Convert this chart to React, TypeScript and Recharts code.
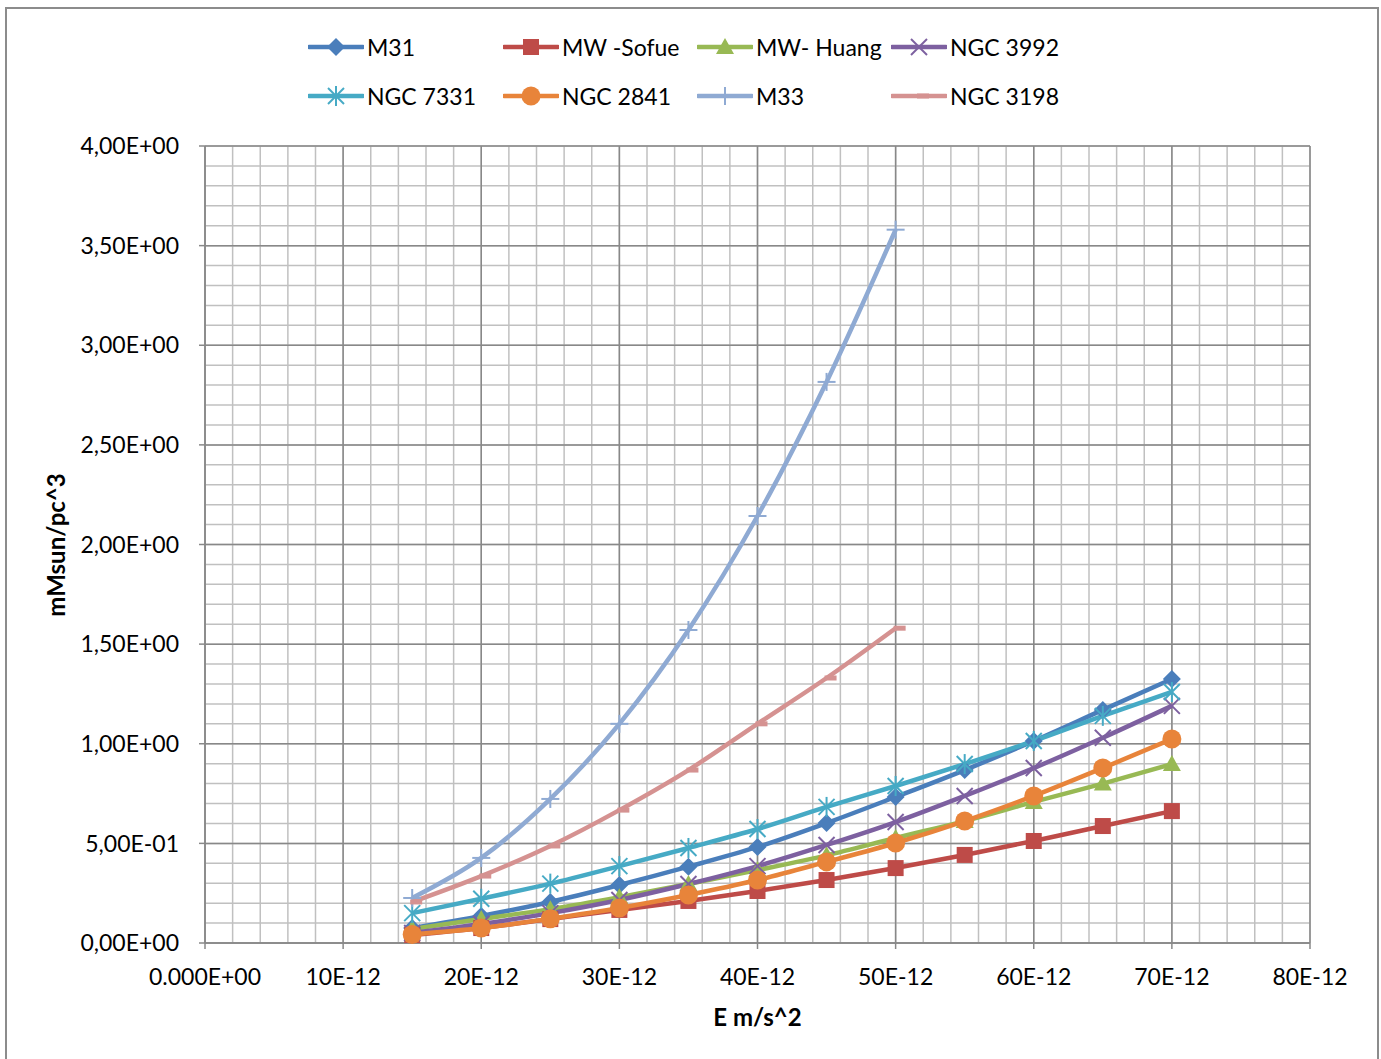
import React from 'react';
import { LineChart, Line, XAxis, YAxis, CartesianGrid, Label } from 'recharts';

// E values in units of 1E-12 m/s^2
const energies = [15, 20, 25, 30, 35, 40, 45, 50, 55, 60, 65, 70];

const m31 = [0.075, 0.136, 0.206, 0.291, 0.383, 0.482, 0.602, 0.733, 0.868, 1.014, 1.17, 1.325];
const mwSofue = [0.04, 0.075, 0.12, 0.166, 0.211, 0.261, 0.316, 0.376, 0.442, 0.512, 0.587, 0.662];
const mwHuang = [0.07, 0.12, 0.17, 0.23, 0.296, 0.366, 0.44, 0.527, 0.612, 0.708, 0.8, 0.898];
const ngc3992 = [0.05, 0.095, 0.15, 0.216, 0.296, 0.386, 0.492, 0.607, 0.738, 0.878, 1.03, 1.19];
const ngc7331 = [0.15, 0.222, 0.298, 0.386, 0.477, 0.572, 0.683, 0.788, 0.898, 1.014, 1.14, 1.26];
const ngc2841 = [0.043, 0.075, 0.122, 0.176, 0.241, 0.316, 0.407, 0.502, 0.612, 0.738, 0.878, 1.024];
const m33 = [0.226, 0.427, 0.723, 1.1, 1.571, 2.143, 2.816, 3.58];
const ngc3198 = [0.206, 0.336, 0.487, 0.667, 0.868, 1.1, 1.33, 1.58];

const xTicks = [0, 10, 20, 30, 40, 50, 60, 70, 80];
const yTicks = [0, 0.5, 1, 1.5, 2, 2.5, 3, 3.5, 4];

type Shape = 'diamond' | 'square' | 'triangle' | 'x' | 'star' | 'circle' | 'plus' | 'dash';

const series: { key: string; name: string; color: string; shape: Shape; values: number[] }[] = [
  { key: 'm31', name: 'M31', color: '#4A7EBB', shape: 'diamond', values: m31 },
  { key: 'mwSofue', name: 'MW -Sofue', color: '#BE4B48', shape: 'square', values: mwSofue },
  { key: 'mwHuang', name: 'MW- Huang', color: '#98B954', shape: 'triangle', values: mwHuang },
  { key: 'ngc3992', name: 'NGC 3992', color: '#7D60A0', shape: 'x', values: ngc3992 },
  { key: 'ngc7331', name: 'NGC 7331', color: '#46AAC5', shape: 'star', values: ngc7331 },
  { key: 'ngc2841', name: 'NGC 2841', color: '#E8843A', shape: 'circle', values: ngc2841 },
  { key: 'm33', name: 'M33', color: '#8FAAD3', shape: 'plus', values: m33 },
  { key: 'ngc3198', name: 'NGC 3198', color: '#D59291', shape: 'dash', values: ngc3198 },
];

const data = energies.map((e, i) => {
  const row: Record<string, number | undefined> = { e };
  series.forEach((s) => {
    row[s.key] = s.values[i];
  });
  return row;
});

const FONT = 'Lato, "Open Sans", sans-serif';
const W = 1381;
const H = 1059;

function fmtY(v: number) {
  const [m, e] = v.toExponential(2).split('e');
  const n = parseInt(e, 10);
  return m.replace('.', ',') + 'E' + (n < 0 ? '-' : '+') + String(Math.abs(n)).padStart(2, '0');
}

function fmtX(v: number) {
  return v === 0 ? '0.000E+00' : `${v}E-12`;
}

function Marker({ shape, cx, cy, color }: { shape: Shape; cx: number; cy: number; color: string }) {
  switch (shape) {
    case 'diamond':
      return <polygon points={`${cx},${cy - 9} ${cx + 9},${cy} ${cx},${cy + 9} ${cx - 9},${cy}`} fill={color} />;
    case 'square':
      return <rect x={cx - 8} y={cy - 8} width={16} height={16} fill={color} />;
    case 'triangle':
      return <polygon points={`${cx},${cy - 9} ${cx + 9},${cy + 7} ${cx - 9},${cy + 7}`} fill={color} />;
    case 'x':
      return (
        <g stroke={color} strokeWidth={2}>
          <line x1={cx - 8} y1={cy - 8} x2={cx + 8} y2={cy + 8} />
          <line x1={cx - 8} y1={cy + 8} x2={cx + 8} y2={cy - 8} />
        </g>
      );
    case 'star':
      return (
        <g stroke={color} strokeWidth={2}>
          <line x1={cx - 8} y1={cy - 8} x2={cx + 8} y2={cy + 8} />
          <line x1={cx - 8} y1={cy + 8} x2={cx + 8} y2={cy - 8} />
          <line x1={cx} y1={cy - 10} x2={cx} y2={cy + 10} />
        </g>
      );
    case 'circle':
      return <circle cx={cx} cy={cy} r={9.5} fill={color} />;
    case 'plus':
      return (
        <g stroke={color} strokeWidth={2}>
          <line x1={cx - 9} y1={cy} x2={cx + 9} y2={cy} />
          <line x1={cx} y1={cy - 9} x2={cx} y2={cy + 9} />
        </g>
      );
    case 'dash':
      return <rect x={cx - 2} y={cy - 2.5} width={12} height={5} fill={color} />;
  }
}

const minorX = Array.from({ length: 41 }, (_, i) => i * 2);
const minorY = Array.from({ length: 41 }, (_, i) => i / 10);

// grid lines at given axis values, placed inside the plot offset
function vGen(values: number[]) {
  return (props: any) => {
    const { left, width } = props.offset;
    return values.map((v) => left + (v / 80) * width);
  };
}

function hGen(values: number[]) {
  return (props: any) => {
    const { top, height } = props.offset;
    return values.map((v) => top + height - (v / 4) * height);
  };
}

function LegendBox() {
  const cols = [308, 503, 697, 891];
  const rows = [47, 96];
  return (
    <>
      {series.map((s, i) => {
        const x = cols[i % 4];
        const y = rows[Math.floor(i / 4)];
        return (
          <div key={s.key} style={{ position: 'absolute', left: x, top: y - 14, height: 28, display: 'flex', alignItems: 'center' }}>
            <svg width={56} height={28} style={{ display: 'block' }}>
              <line x1={1} y1={14} x2={55} y2={14} stroke={s.color} strokeWidth={4.5} strokeLinecap="round" />
              <Marker shape={s.shape} cx={28} cy={14} color={s.color} />
            </svg>
            <span style={{ fontFamily: FONT, fontSize: 23, color: '#000', marginLeft: 3, whiteSpace: 'nowrap' }}>{s.name}</span>
          </div>
        );
      })}
    </>
  );
}

export default function App() {
  return (
    <div style={{ position: 'absolute', left: 0, top: 0, width: W, height: H, overflow: 'hidden', background: '#fff' }}>
      <div style={{ position: 'absolute', left: 5, top: 7, width: 1370, height: 1100, border: '2px solid #8C8C8C' }} />
      <LegendBox />
      <div style={{ position: 'absolute', left: 0, top: 0 }}>
        <LineChart width={W} height={H} data={data} margin={{ top: 146, right: 71, bottom: 0, left: 0 }}>
          <CartesianGrid
            stroke="#C0C0C0"
            strokeWidth={1.5}
            verticalCoordinatesGenerator={vGen(minorX)}
            horizontalCoordinatesGenerator={hGen(minorY)}
          />
          <CartesianGrid
            stroke="#888888"
            strokeWidth={1.5}
            verticalCoordinatesGenerator={vGen(xTicks)}
            horizontalCoordinatesGenerator={hGen(yTicks)}
          />
          <XAxis
            type="number"
            dataKey="e"
            domain={[0, 80]}
            ticks={xTicks}
            tickFormatter={fmtX}
            height={116}
            tickSize={6}
            tickMargin={20}
            stroke="#888888"
            strokeWidth={1.5}
            tick={{ fontFamily: FONT, fontSize: 23, fill: '#000' }}
          >
            <Label
              content={({ viewBox }: any) => (
                <text
                  x={viewBox.x + viewBox.width / 2}
                  y={1026}
                  textAnchor="middle"
                  fontFamily={FONT}
                  fontSize={24}
                  fontWeight="bold"
                  fill="#000"
                >
                  E m/s^2
                </text>
              )}
            />
          </XAxis>
          <YAxis
            type="number"
            domain={[0, 4]}
            ticks={yTicks}
            tickFormatter={fmtY}
            width={205}
            tickSize={6}
            tickMargin={20}
            stroke="#888888"
            strokeWidth={1.5}
            tick={{ fontFamily: FONT, fontSize: 23, fill: '#000' }}
          >
            <Label
              content={() => (
                <text
                  x={0}
                  y={0}
                  transform="translate(65, 545) rotate(-90)"
                  textAnchor="middle"
                  fontFamily={FONT}
                  fontSize={24}
                  fontWeight="bold"
                  fill="#000"
                >
                  mMsun/pc^3
                </text>
              )}
            />
          </YAxis>
          {series.map((s) => (
            <Line
              key={s.key}
              type="monotone"
              dataKey={s.key}
              name={s.name}
              stroke={s.color}
              strokeWidth={4.5}
              isAnimationActive={false}
              activeDot={false}
              dot={(p: any) => (
                <g key={`${s.key}-${p.index}`}>
                  {p.cx != null && p.cy != null && p.value != null ? (
                    <Marker shape={s.shape} cx={p.cx} cy={p.cy} color={s.color} />
                  ) : null}
                </g>
              )}
            />
          ))}
        </LineChart>
      </div>
    </div>
  );
}
